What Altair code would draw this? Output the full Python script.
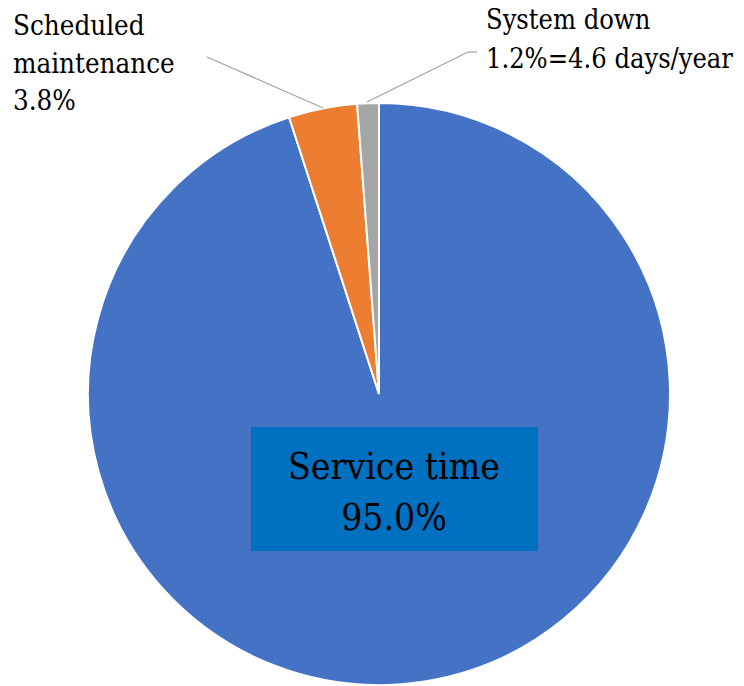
import altair as alt
import pandas as pd

categories = ["Service time", "Scheduled maintenance", "System down"]
shares = [95.0, 3.8, 1.2]
colors = ["#4472C4", "#ED7D31", "#A5A5A5"]
order = [0, 1, 2]

df = pd.DataFrame({"category": categories, "share": shares, "order": order})

FONT = "'DejaVu Serif Condensed', 'DejaVu Serif', serif"
CX, CY, R = 379, 394, 291

pie = alt.Chart(df).mark_arc(outerRadius=R, stroke="white", strokeWidth=2).encode(
    theta=alt.Theta("share:Q", stack=True),
    order=alt.Order("order:Q"),
    color=alt.Color("category:N", scale=alt.Scale(domain=categories, range=colors), legend=None),
    x=alt.value(CX),
    y=alt.value(CY),
)

box = alt.Chart(df.iloc[[0]]).mark_rect(color="#0070C0").encode(
    x=alt.value(251), x2=alt.value(538), y=alt.value(427), y2=alt.value(551)
)

svc_text = alt.Chart(df.iloc[[0]]).mark_text(
    font=FONT, fontSize=37, color="black", align="center", baseline="alphabetic", lineHeight=51
).transform_calculate(
    label="[datum.category, format(datum.share, '.1f') + '%']"
).encode(text="label:N", x=alt.value(394), y=alt.value(479))

sched_text = alt.Chart(df.iloc[[1]]).mark_text(
    font=FONT, fontSize=27.5, color="black", align="left", baseline="alphabetic", lineHeight=37.5
).transform_calculate(
    label="['Scheduled', 'maintenance', format(datum.share, '.1f') + '%']"
).encode(text="label:N", x=alt.value(13), y=alt.value(35))

down_text = alt.Chart(df.iloc[[2]]).mark_text(
    font=FONT, fontSize=27, color="black", align="left", baseline="alphabetic", lineHeight=39
).transform_calculate(
    label="['System down', format(datum.share, '.1f') + '%=4.6 days/year']"
).encode(text="label:N", x=alt.value(486), y=alt.value(29))

lines_df = pd.DataFrame({
    "x1": [207, 477, 468],
    "y1": [57, 52, 52],
    "x2": [323, 468, 367],
    "y2": [108, 52, 102],
})
leaders = alt.Chart(lines_df).mark_rule(color="#A5A5A5", strokeWidth=1.3).encode(
    x=alt.X("x1:Q", scale=alt.Scale(domain=[0, 744]), axis=None),
    x2="x2:Q",
    y=alt.Y("y1:Q", scale=alt.Scale(domain=[0, 686], reverse=True), axis=None),
    y2="y2:Q",
)

chart = alt.layer(pie, box, svc_text, sched_text, down_text, leaders).properties(
    width=744, height=686, padding=0, autosize=alt.AutoSizeParams(type="none")
).configure_view(stroke=None)

chart.save("out.html", embed_options={"renderer": "svg", "actions": False})
